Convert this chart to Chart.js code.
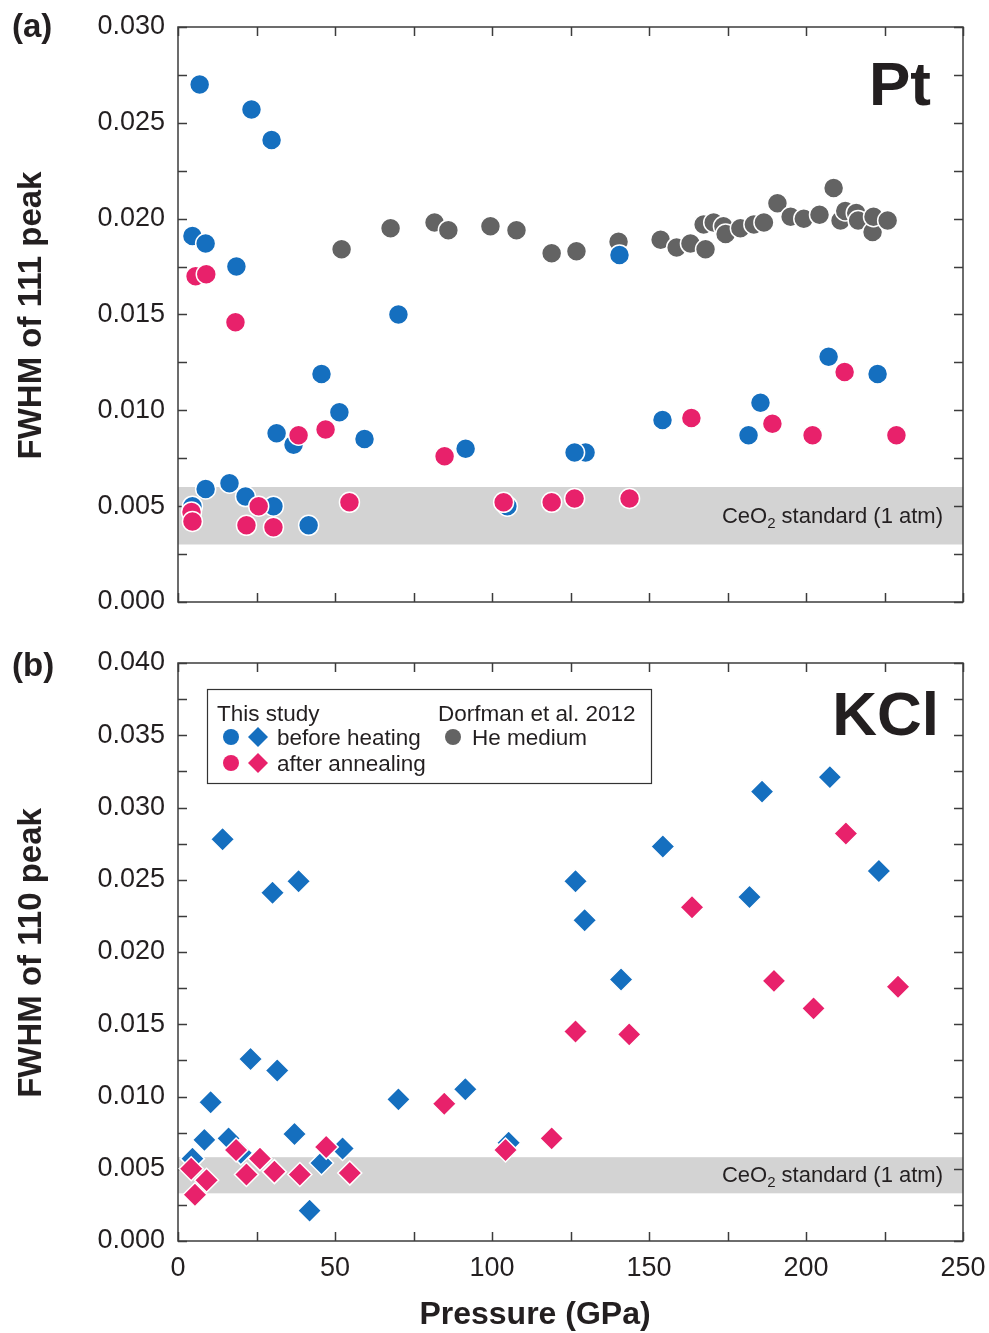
<!DOCTYPE html>
<html><head><meta charset="utf-8">
<script src="https://cdn.jsdelivr.net/npm/chart.js@4.4.1/dist/chart.umd.min.js"></script>
<style>
html,body{margin:0;padding:0;background:#fff;}
#wrap{position:relative;width:989px;height:1333px;overflow:hidden;background:#fff;}
canvas{position:absolute;left:0;}
#cA{top:0;} #cB{top:640px;}
</style></head><body>
<div id="wrap"><canvas id="cA" width="989" height="640"></canvas><canvas id="cB" width="989" height="693"></canvas></div>
<script>
// ---------------- DATA ----------------
const pressureTicks = [0, 50, 100, 150, 200, 250];
const ptYTicks = [0.000, 0.005, 0.010, 0.015, 0.020, 0.025, 0.030];
const kclYTicks = [0.000, 0.005, 0.010, 0.015, 0.020, 0.025, 0.030, 0.035, 0.040];

// Pt 111 peak — this study, before heating
const ptBeforeP = [6.9, 23.4, 29.8, 4.6, 8.8, 18.6, 70.2, 140.6, 45.7, 51.4, 31.4, 36.8, 59.4, 91.6, 129.8, 126.3, 154.3, 185.5, 181.7, 207.2, 222.8, 8.8, 16.4, 21.5, 30.4, 4.6, 41.6, 104.9];
const ptBeforeW = [0.0270, 0.0257, 0.0241, 0.0191, 0.0187, 0.0175, 0.0150, 0.0181, 0.0119, 0.0099, 0.0088, 0.0082, 0.0085, 0.0080, 0.0078, 0.0078, 0.0095, 0.0104, 0.0087, 0.0128, 0.0119, 0.0059, 0.0062, 0.0055, 0.0050, 0.0050, 0.0040, 0.0050];
// Pt 111 peak — this study, after annealing
const ptAfterP = [5.6, 9.0, 18.3, 38.4, 47.0, 54.6, 84.9, 4.3, 4.6, 21.8, 25.7, 30.4, 103.7, 119.0, 126.3, 143.8, 163.5, 189.3, 202.1, 212.3, 228.8];
const ptAfterW = [0.0170, 0.0171, 0.0146, 0.0087, 0.0090, 0.0052, 0.0076, 0.0047, 0.0042, 0.0040, 0.0050, 0.0039, 0.0052, 0.0052, 0.0054, 0.0054, 0.0096, 0.0093, 0.0087, 0.0120, 0.0087];
// Pt 111 peak — Dorfman et al. 2012, He medium
const ptHeP = [52.1, 67.7, 81.7, 86.1, 99.5, 107.8, 119.0, 126.9, 140.3, 153.7, 158.8, 163.2, 168.0, 167.4, 170.6, 173.7, 174.4, 179.1, 183.4, 186.6, 190.9, 195.1, 199.3, 204.3, 208.8, 211.0, 212.5, 216.0, 216.6, 221.2, 221.5, 226.0];
const ptHeW = [0.0184, 0.0195, 0.0198, 0.0194, 0.0196, 0.0194, 0.0182, 0.0183, 0.0188, 0.0189, 0.0185, 0.0187, 0.0184, 0.0197, 0.0198, 0.0196, 0.0192, 0.0195, 0.0197, 0.0198, 0.0208, 0.0201, 0.0200, 0.0202, 0.0216, 0.0199, 0.0204, 0.0203, 0.0199, 0.0193, 0.0201, 0.0199];

// KCl 110 peak — before heating
const kclBeforeP = [14.2, 30.1, 38.4, 23.1, 31.6, 10.4, 70.2, 8.4, 16.1, 37.1, 52.4, 45.7, 41.9, 4.6, 20.0, 207.6, 186.0, 154.4, 126.6, 129.5, 182.0, 223.2, 141.1, 91.5, 105.3];
const kclBeforeW = [0.0278, 0.0241, 0.0249, 0.0126, 0.0118, 0.0096, 0.0098, 0.0070, 0.0071, 0.0074, 0.0064, 0.0054, 0.0021, 0.0057, 0.0061, 0.0321, 0.0311, 0.0273, 0.0249, 0.0222, 0.0238, 0.0256, 0.0181, 0.0105, 0.0068];
// KCl 110 peak — after annealing
const kclAfterP = [212.7, 163.7, 189.8, 229.3, 202.4, 126.6, 143.7, 84.8, 119.0, 104.3, 18.5, 26.1, 4.2, 9.1, 5.4, 21.8, 30.7, 38.8, 47.2, 54.7];
const kclAfterW = [0.0282, 0.0231, 0.0180, 0.0176, 0.0161, 0.0145, 0.0143, 0.0095, 0.0071, 0.0063, 0.0063, 0.0057, 0.0050, 0.0042, 0.0032, 0.0046, 0.0048, 0.0046, 0.0065, 0.0047];

// CeO2 standard (1 atm) bands
const ptBand = [0.0030, 0.0060];
const kclBand = [0.0033, 0.0058];

// ---------------- STYLE ----------------
const FONT = "'Liberation Sans', Arial, Helvetica, sans-serif";
const BLUE = '#156fbf';
const PINK = '#e8216b';
const GRAY = '#636363';
const AXIS = '#3c3c3c';
const TEXT = '#231f20';

function pts(xs, ys) { return xs.map((x, i) => ({x: x, y: ys[i]})); }

function ds(label, xs, ys, color, style, r, order) {
  return {
    label, data: pts(xs, ys), order,
    pointStyle: style, pointRadius: r, pointHoverRadius: r,
    backgroundColor: color, borderColor: '#ffffff', borderWidth: 1.5,
    showLine: false, clip: false
  };
}

const framePlugin = {
  id: 'frame',
  beforeDatasetsDraw(chart, args, opts) {
    const {ctx, chartArea: a} = chart;
    const x = chart.scales.x, y = chart.scales.y;
    ctx.save();
    // band
    const yb1 = y.getPixelForValue(opts.band[0]), yb2 = y.getPixelForValue(opts.band[1]);
    ctx.fillStyle = '#d3d3d3';
    ctx.fillRect(a.left, yb2, a.right - a.left, yb1 - yb2);
    // band text
    const base = (yb1 + yb2) / 2 + 7;
    ctx.fillStyle = TEXT;
    ctx.textBaseline = 'alphabetic';
    ctx.textAlign = 'left';
    ctx.font = '22px ' + FONT;
    const t1 = 'CeO', t3 = ' standard (1 atm)';
    const w1 = ctx.measureText(t1).width, w3 = ctx.measureText(t3).width;
    ctx.font = '15px ' + FONT;
    const w2 = ctx.measureText('2').width;
    let sx = a.right - 20 - (w1 + w2 + w3);
    ctx.font = '22px ' + FONT;
    ctx.fillText(t1, sx, base);
    ctx.font = '15px ' + FONT;
    ctx.fillText('2', sx + w1, base + 5);
    ctx.font = '22px ' + FONT;
    ctx.fillText(t3, sx + w1 + w2, base);
    // frame
    ctx.strokeStyle = AXIS;
    ctx.lineWidth = 1.5;
    ctx.strokeRect(a.left, a.top, a.right - a.left, a.bottom - a.top);
    const L = 9;
    ctx.beginPath();
    for (let v = x.min; v <= x.max + 1e-9; v += opts.xMinor) {
      const px = Math.round(x.getPixelForValue(v)) + 0.5;
      ctx.moveTo(px, a.bottom); ctx.lineTo(px, a.bottom - L);
      ctx.moveTo(px, a.top); ctx.lineTo(px, a.top + L);
    }
    for (let v = y.min; v <= y.max + 1e-9; v += opts.yMinor) {
      const py = Math.round(y.getPixelForValue(v)) + 0.5;
      ctx.moveTo(a.left, py); ctx.lineTo(a.left + L, py);
      ctx.moveTo(a.right, py); ctx.lineTo(a.right - L, py);
    }
    ctx.stroke();
    ctx.restore();
  },
  afterDraw(chart, args, opts) {
    const {ctx, chartArea: a} = chart;
    ctx.save();
    ctx.fillStyle = TEXT;
    // panel letter
    ctx.font = 'bold 33px ' + FONT;
    ctx.textAlign = 'left';
    ctx.textBaseline = 'alphabetic';
    ctx.fillText(opts.panel, 12, opts.panelY);
    // material label
    ctx.font = 'bold 62px ' + FONT;
    ctx.textAlign = 'right';
    ctx.fillText(opts.material, opts.matX, opts.matY);
    // y title
    ctx.save();
    ctx.translate(41, (a.top + a.bottom) / 2 + 1);
    ctx.rotate(-Math.PI / 2);
    ctx.font = 'bold 33px ' + FONT;
    ctx.textAlign = 'center';
    ctx.fillText(opts.yTitle, 0, 0);
    ctx.restore();
    // x title
    if (opts.xTitle) {
      ctx.font = 'bold 32px ' + FONT;
      ctx.textAlign = 'center';
      ctx.fillText(opts.xTitle, 535, opts.xTitleY);
    }
    // legend
    if (opts.legend) {
      const L = opts.legend;
      ctx.lineWidth = 1.2;
      ctx.strokeStyle = '#333';
      ctx.fillStyle = '#fff';
      ctx.fillRect(L.x, L.y, L.w, L.h);
      ctx.strokeRect(L.x + 0.5, L.y + 0.5, L.w, L.h);
      ctx.fillStyle = TEXT;
      ctx.font = '22.5px ' + FONT;
      ctx.textAlign = 'left';
      ctx.fillText('This study', L.x + 10, L.y + 32);
      ctx.fillText('Dorfman et al. 2012', L.x + 231, L.y + 32);
      ctx.fillText('before heating', L.x + 70, L.y + 56);
      ctx.fillText('He medium', L.x + 265, L.y + 56);
      ctx.fillText('after annealing', L.x + 70, L.y + 82);
      const circ = (cx, cy, c) => { ctx.fillStyle = c; ctx.beginPath(); ctx.arc(cx, cy, 8, 0, Math.PI * 2); ctx.fill(); };
      const diam = (cx, cy, c) => { const r = 10; ctx.fillStyle = c; ctx.beginPath(); ctx.moveTo(cx, cy - r); ctx.lineTo(cx + r, cy); ctx.lineTo(cx, cy + r); ctx.lineTo(cx - r, cy); ctx.closePath(); ctx.fill(); };
      circ(L.x + 24, L.y + 48, BLUE); diam(L.x + 51, L.y + 48, BLUE);
      circ(L.x + 24, L.y + 74, PINK); diam(L.x + 51, L.y + 74, PINK);
      circ(L.x + 246, L.y + 48, GRAY);
    }
    ctx.restore();
  }
};

function zeroPad(s) { s.paddingLeft = 0; s.paddingRight = 0; s.paddingTop = 0; s.paddingBottom = 0; }

function makeOptions(o) {
  return {
    responsive: false, animation: false, devicePixelRatio: 1,
    layout: {padding: {left: 0, right: 26, top: o.padTop, bottom: o.padBottom}},
    plugins: {
      legend: {display: false}, tooltip: {enabled: false},
      frame: o.frame
    },
    scales: {
      x: {
        type: 'linear', min: 0, max: 250, display: o.showX,
        grid: {display: false, drawTicks: false}, border: {display: false},
        afterBuildTicks: (s) => { s.ticks = pressureTicks.map(v => ({value: v})); },
        ticks: {padding: 11, color: TEXT, font: {family: FONT, size: 27}, maxRotation: 0, autoSkip: false},
        afterFit: (s) => { s.height = o.xHeight; zeroPad(s); }
      },
      y: {
        type: 'linear', min: 0, max: o.yMax,
        grid: {display: false, drawTicks: false}, border: {display: false},
        afterBuildTicks: (s) => { s.ticks = o.yTicks.map(v => ({value: v})); },
        ticks: {padding: 13, color: TEXT, font: {family: FONT, size: 27}, autoSkip: false,
          callback: (v) => Number(v).toFixed(3)},
        afterFit: (s) => { s.width = 178; zeroPad(s); }
      }
    }
  };
}

new Chart(document.getElementById('cA'), {
  type: 'scatter',
  data: {datasets: [
    ds('after annealing', ptAfterP, ptAfterW, PINK, 'circle', 10, 1),
    ds('before heating', ptBeforeP, ptBeforeW, BLUE, 'circle', 10, 2),
    ds('He medium', ptHeP, ptHeW, GRAY, 'circle', 10, 3)
  ]},
  options: makeOptions({
    padTop: 27, padBottom: 38, showX: false, xHeight: 0, yMax: 0.030, yTicks: ptYTicks,
    frame: {band: ptBand, xMinor: 25, yMinor: 0.0025, panel: '(a)', panelY: 37,
      material: 'Pt', matX: 931, matY: 105, yTitle: 'FWHM of 111 peak'}
  }),
  plugins: [framePlugin]
});

new Chart(document.getElementById('cB'), {
  type: 'scatter',
  data: {datasets: [
    ds('after annealing', kclAfterP, kclAfterW, PINK, 'rectRot', 12, 1),
    ds('before heating', kclBeforeP, kclBeforeW, BLUE, 'rectRot', 12, 2)
  ]},
  options: makeOptions({
    padTop: 23, padBottom: 0, showX: true, xHeight: 92, yMax: 0.040, yTicks: kclYTicks,
    frame: {band: kclBand, xMinor: 25, yMinor: 0.0025, panel: '(b)', panelY: 36,
      material: 'KCl', matX: 939, matY: 95, yTitle: 'FWHM of 110 peak',
      xTitle: 'Pressure (GPa)', xTitleY: 684,
      legend: {x: 207, y: 49, w: 444, h: 94}}
  }),
  plugins: [framePlugin]
});
</script>
</body></html>
